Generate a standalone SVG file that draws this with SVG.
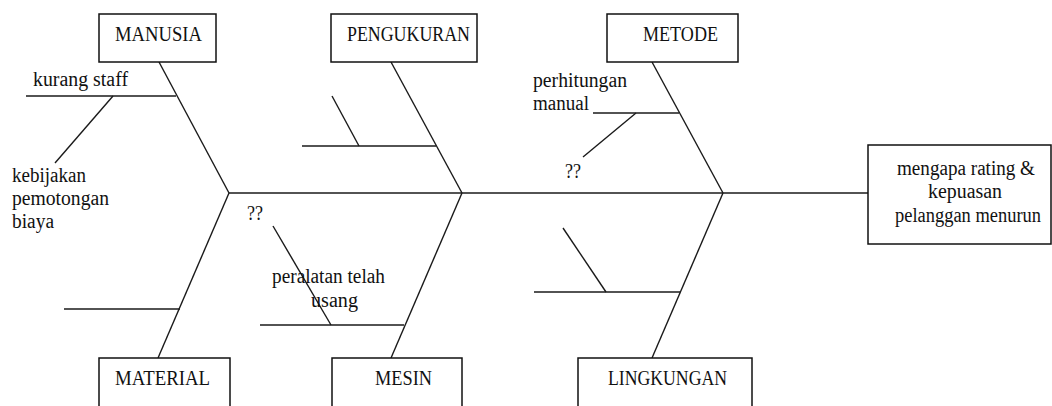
<svg xmlns="http://www.w3.org/2000/svg" width="1052" height="406" viewBox="0 0 1052 406">
<style>
.box{fill:#fff;stroke:#111;stroke-width:1.5}
.ln{stroke:#1a1a1a;stroke-width:1.4;fill:none}
.cap{font-family:"Liberation Serif",serif;font-size:20px;fill:#111}
.lbl{font-family:"Liberation Serif",serif;font-size:20px;fill:#111}
</style>
<rect width="1052" height="406" fill="#fff"/>
<g id="connectors">
<line class="ln" x1="229" y1="193" x2="868" y2="193"/>
<line class="ln" x1="159" y1="62" x2="229" y2="193"/>
<line class="ln" x1="391" y1="62" x2="462" y2="193"/>
<line class="ln" x1="652" y1="62" x2="723" y2="193"/>
<line class="ln" x1="229" y1="193" x2="158" y2="358"/>
<line class="ln" x1="462" y1="193" x2="391" y2="358"/>
<line class="ln" x1="723" y1="193" x2="652" y2="358"/>
<line class="ln" x1="26" y1="96" x2="176" y2="96"/>
<line class="ln" x1="113" y1="96" x2="55" y2="163"/>
<line class="ln" x1="302" y1="146" x2="436" y2="146"/>
<line class="ln" x1="332" y1="96" x2="359" y2="146"/>
<line class="ln" x1="593" y1="113" x2="679" y2="113"/>
<line class="ln" x1="636" y1="113" x2="583" y2="157"/>
<line class="ln" x1="64" y1="309" x2="180" y2="309"/>
<line class="ln" x1="260" y1="325" x2="404" y2="325"/>
<line class="ln" x1="273" y1="226" x2="331" y2="325"/>
<line class="ln" x1="534" y1="292" x2="680" y2="292"/>
<line class="ln" x1="563" y1="228" x2="606" y2="292"/>
</g>
<g id="manusia"><rect class="box" x="99" y="14" width="117" height="48"/><text class="cap" x="115" y="41" textLength="87" lengthAdjust="spacingAndGlyphs">MANUSIA</text></g>
<g id="pengukuran"><rect class="box" x="331" y="14" width="146" height="48"/><text class="cap" x="347" y="41" textLength="123" lengthAdjust="spacingAndGlyphs">PENGUKURAN</text></g>
<g id="metode"><rect class="box" x="607" y="14" width="131" height="48"/><text class="cap" x="643" y="41" textLength="75" lengthAdjust="spacingAndGlyphs">METODE</text></g>
<g id="material"><rect class="box" x="99" y="358" width="131" height="60"/><text class="cap" x="115" y="385" textLength="95" lengthAdjust="spacingAndGlyphs">MATERIAL</text></g>
<g id="mesin"><rect class="box" x="332" y="358" width="130" height="60"/><text class="cap" x="375" y="385" textLength="57" lengthAdjust="spacingAndGlyphs">MESIN</text></g>
<g id="lingkungan"><rect class="box" x="578" y="358" width="174" height="60"/><text class="cap" x="608" y="385" textLength="119" lengthAdjust="spacingAndGlyphs">LINGKUNGAN</text></g>
<g id="effect"><rect class="box" x="868" y="145" width="183" height="99"/>
<text class="lbl" x="897" y="175" textLength="138" lengthAdjust="spacingAndGlyphs">mengapa rating &amp;</text>
<text class="lbl" x="928" y="198" textLength="74" lengthAdjust="spacingAndGlyphs">kepuasan</text>
<text class="lbl" x="895" y="222" textLength="146" lengthAdjust="spacingAndGlyphs">pelanggan menurun</text></g>
<g id="labels">
<text class="lbl" x="33" y="86" textLength="95" lengthAdjust="spacingAndGlyphs">kurang staff</text>
<text class="lbl" x="12" y="182" textLength="74" lengthAdjust="spacingAndGlyphs">kebijakan</text>
<text class="lbl" x="12" y="205" textLength="97" lengthAdjust="spacingAndGlyphs">pemotongan</text>
<text class="lbl" x="12" y="228" textLength="42" lengthAdjust="spacingAndGlyphs">biaya</text>
<text class="lbl" x="533" y="87" textLength="94" lengthAdjust="spacingAndGlyphs">perhitungan</text>
<text class="lbl" x="533" y="110" textLength="56" lengthAdjust="spacingAndGlyphs">manual</text>
<text class="lbl" x="565" y="178" textLength="16" lengthAdjust="spacingAndGlyphs">??</text>
<text class="lbl" x="247" y="220" textLength="16" lengthAdjust="spacingAndGlyphs">??</text>
<text class="lbl" x="272" y="283" textLength="113" lengthAdjust="spacingAndGlyphs">peralatan telah</text>
<text class="lbl" x="311" y="307" textLength="47" lengthAdjust="spacingAndGlyphs">usang</text>
</g>
</svg>
